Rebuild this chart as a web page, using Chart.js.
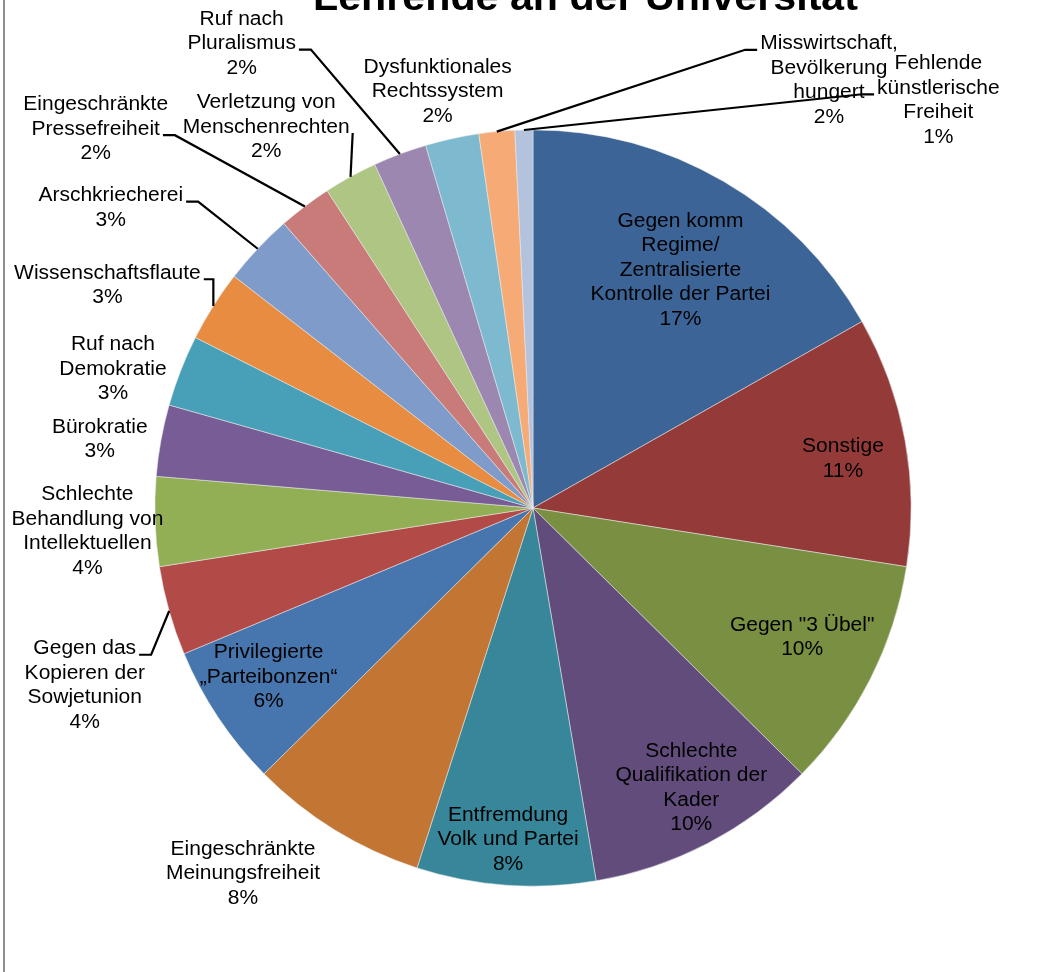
<!DOCTYPE html>
<html>
<head>
<meta charset="utf-8">
<script src="https://cdn.jsdelivr.net/npm/chart.js@4/dist/chart.umd.min.js"></script>
<style>
  body { margin: 0; background: #fff; }
  #wrap { position: relative; width: 1053px; height: 972px; }
  #edge { position: absolute; left: 3px; top: 0; width: 2px; height: 972px; background: #8e8e8e; }
</style>
</head>
<body>
<div id="wrap">
  <canvas id="pieChart" width="1053" height="972"></canvas>
  <div id="edge"></div>
</div>
<script>
const chartTitle = 'Lehrende an der Universität';

const categories = [
    ['Gegen komm', 'Regime/', 'Zentralisierte', 'Kontrolle der Partei'],
    ['Sonstige'],
    ['Gegen "3 Übel"'],
    ['Schlechte', 'Qualifikation der', 'Kader'],
    ['Entfremdung', 'Volk und Partei'],
    ['Eingeschränkte', 'Meinungsfreiheit'],
    ['Privilegierte', '„Parteibonzen“'],
    ['Gegen das', 'Kopieren der', 'Sowjetunion'],
    ['Schlechte', 'Behandlung von', 'Intellektuellen'],
    ['Bürokratie'],
    ['Ruf nach', 'Demokratie'],
    ['Wissenschaftsflaute'],
    ['Arschkriecherei'],
    ['Eingeschränkte', 'Pressefreiheit'],
    ['Verletzung von', 'Menschenrechten'],
    ['Ruf nach', 'Pluralismus'],
    ['Dysfunktionales', 'Rechtssystem'],
    ['Misswirtschaft,', 'Bevölkerung', 'hungert'],
    ['Fehlende', 'künstlerische', 'Freiheit'],
];

const values = [22, 14, 13, 13, 10, 10, 8, 5, 5, 4, 4, 4, 4, 3, 3, 3, 3, 2, 1];

const colors = [
    '#3c6496', '#943b3a', '#798f42', '#614c7c', '#37869a',
    '#c37634', '#4775ad', '#b24b48', '#92af55', '#775c95',
    '#47a0b8', '#e88c42', '#7f9bca', '#c97b79', '#aec584',
    '#9b87b0', '#7dbacf', '#f6ab77', '#b3c2dd',
];

// label placement: r = distance in pie radii, a = degrees clockwise from 12 o'clock,
// lead = line index the leader line attaches to (outside labels only)
const labelPlace = [
    { r: 0.74, a: 31.8 },
    { r: 0.83, a: 81.0 },
    { r: 0.79, a: 115.7 },
    { r: 0.85, a: 150.5 },
    { r: 0.88, a: 184.3 },
    { r: 1.235, a: 218.4 },
    { r: 0.83, a: 237.4 },
    { r: 1.275, a: 248.4, lead: 0 },
    { r: 1.18, a: 267.0 },
    { r: 1.16, a: 279.0 },
    { r: 1.17, a: 288.3 },
    { r: 1.27, a: 297.6, lead: 0 },
    { r: 1.37, a: 305.4, lead: 0 },
    { r: 1.53, a: 310.9, lead: 1 },
    { r: 1.23, a: 325.0, lead: 1 },
    { r: 1.45, a: 327.9, lead: 1 },
    { r: 1.13, a: 347.1 },
    { r: 1.375, a: 34.7, lead: 0 },
    { r: 1.52, a: 44.85, lead: 1 },
];

const LINE_H = 24.5;
const SX = 1.05;

function drawText(ctx, t, x, y) {
    ctx.save();
    ctx.translate(x, y);
    ctx.scale(SX, 1);
    ctx.fillText(t, 0, 0);
    ctx.restore();
}

const sliceLabels = {
    id: 'sliceLabels',
    afterDatasetsDraw(chart) {
        const ctx = chart.ctx;
        const meta = chart.getDatasetMeta(0);
        const total = values.reduce((a, b) => a + b, 0);
        ctx.save();

        // title, cut off at the top like the original
        ctx.font = 'bold 38px "Liberation Sans", Arial, sans-serif';
        ctx.fillStyle = '#000';
        ctx.textAlign = 'center';
        ctx.textBaseline = 'alphabetic';
        const tw = ctx.measureText(chartTitle).width;
        ctx.save();
        ctx.translate(585.5, 10);
        ctx.scale(545 / tw, 1);
        ctx.fillText(chartTitle, 0, 0);
        ctx.restore();

        ctx.font = '20px "Liberation Sans", Arial, sans-serif';
        ctx.textBaseline = 'middle';
        ctx.strokeStyle = '#000';
        ctx.lineWidth = 2.2;

        meta.data.forEach((arc, i) => {
            const R = arc.outerRadius;
            const p = labelPlace[i];
            const a = p.a * Math.PI / 180;
            const lx = arc.x + p.r * R * Math.sin(a);
            const ly = arc.y - p.r * R * Math.cos(a);
            const lines = categories[i].concat(Math.round(values[i] / total * 100) + '%');
            const top = ly - (lines.length - 1) * LINE_H / 2;
            lines.forEach((t, k) => drawText(ctx, t, lx, top + k * LINE_H));

            if (p.lead !== undefined) {
                const mid = (arc.startAngle + arc.endAngle) / 2;
                const rx = arc.x + Math.cos(mid) * R;
                const ry = arc.y + Math.sin(mid) * R;
                const w = ctx.measureText(lines[p.lead]).width * SX;
                const dir = lx < rx ? 1 : -1;
                const edge = lx + dir * (w / 2 + 3);
                const y = top + p.lead * LINE_H + 6;
                const h = Math.max(0, Math.min(12, dir * (rx - edge)));
                ctx.beginPath();
                ctx.moveTo(edge, y);
                ctx.lineTo(edge + dir * h, y);
                ctx.lineTo(rx, ry);
                ctx.stroke();
            }
        });
        ctx.restore();
    }
};

const ctx_1 = document.getElementById('pieChart').getContext('2d');
const pieChart = new Chart(ctx_1, {
    type: 'pie',
    data: {
        labels: categories,
        datasets: [{
            data: values,
            backgroundColor: colors,
            borderColor: 'rgba(235, 235, 235, 0.7)',
            borderWidth: 0.75,
        }]
    },
    options: {
        responsive: false,
        animation: false,
        layout: {
            padding: { left: 154.5, right: 141.5, top: 129.5, bottom: 85.5 }
        },
        plugins: {
            legend: { display: false },
            tooltip: { enabled: false },
            title: { display: false },
        }
    },
    plugins: [sliceLabels]
});
</script>
</body>
</html>
